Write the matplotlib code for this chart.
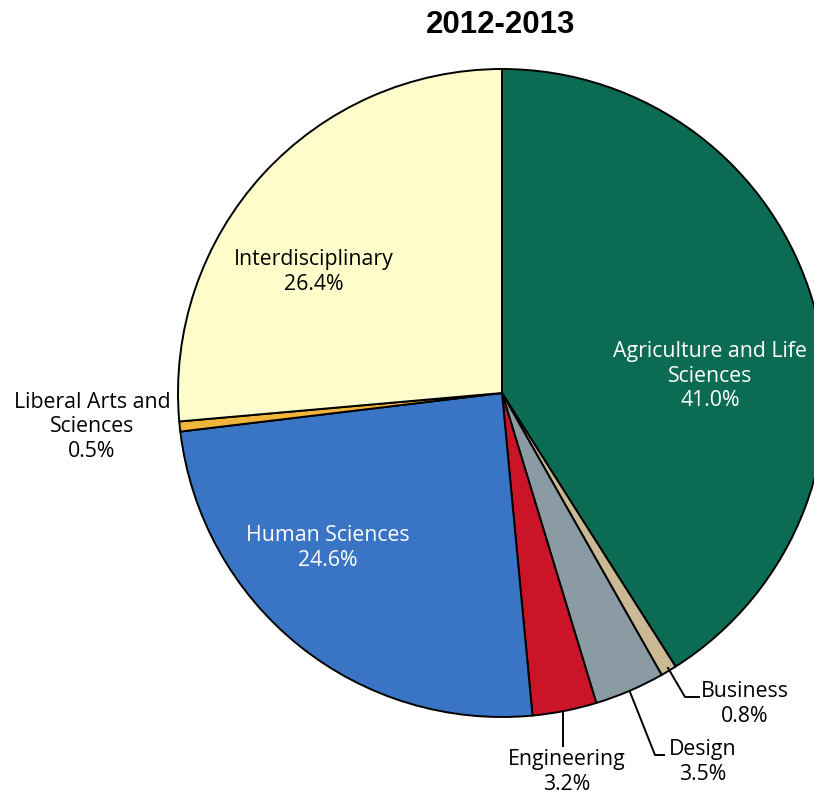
import matplotlib.pyplot as plt

# slice data, clockwise from 12 o'clock
labels = ['Agriculture and Life\nSciences', 'Business', 'Design', 'Engineering',
          'Human Sciences', 'Liberal Arts and\nSciences', 'Interdisciplinary']
shares = [41.0, 0.8, 3.5, 3.2, 24.6, 0.5, 26.4]
colors = ['#0b6b53', '#c9b994', '#8a9ba4', '#cc1429', '#3a74c4', '#f2b53c', '#fffccb']

W, H = 814, 793
plt.rcParams['font.family'] = ['Liberation Sans', 'DejaVu Sans']

fig = plt.figure(figsize=(W / 100, H / 100), dpi=100)
ax = fig.add_axes([0, 0, 1, 1])

cx, cy, r = 502, H - 393, 324
ax.pie(shares, colors=colors, startangle=90, counterclock=False,
       center=(cx, cy), radius=r, frame=True,
       wedgeprops=dict(edgecolor='black', linewidth=1.4))
ax.set_xlim(0, W)
ax.set_ylim(0, H)
ax.set_aspect('equal')
ax.axis('off')

def txt(x, y, s, color='black'):
    ax.text(x, H - y, s, ha='center', va='center', fontsize=15.3,
            color=color, linespacing=1.2, family=['Open Sans', 'DejaVu Sans'])

txt(710, 376, 'Agriculture and Life\nSciences\n41.0%', 'white')
txt(314, 272, 'Interdisciplinary\n26.4%')
txt(328, 548, 'Human Sciences\n24.6%', 'white')
txt(92, 427, 'Liberal Arts and\nSciences\n0.5%')
txt(745, 704, 'Business\n0.8%')
txt(703, 762, 'Design\n3.5%')
txt(567, 772, 'Engineering\n3.2%')

# leader lines for the small slices
ax.plot([668, 685, 699], [H - 668, H - 697, H - 697], color='black', lw=1.4)
ax.plot([630, 655, 664], [H - 692, H - 755, H - 755], color='black', lw=1.4)
ax.plot([563, 563], [H - 713, H - 746], color='black', lw=1.4)

ax.text(501, H - 25, '2012-2013', ha='center', va='center', fontsize=22.5,
        fontweight='bold')

fig.savefig('out.png', dpi=100)
